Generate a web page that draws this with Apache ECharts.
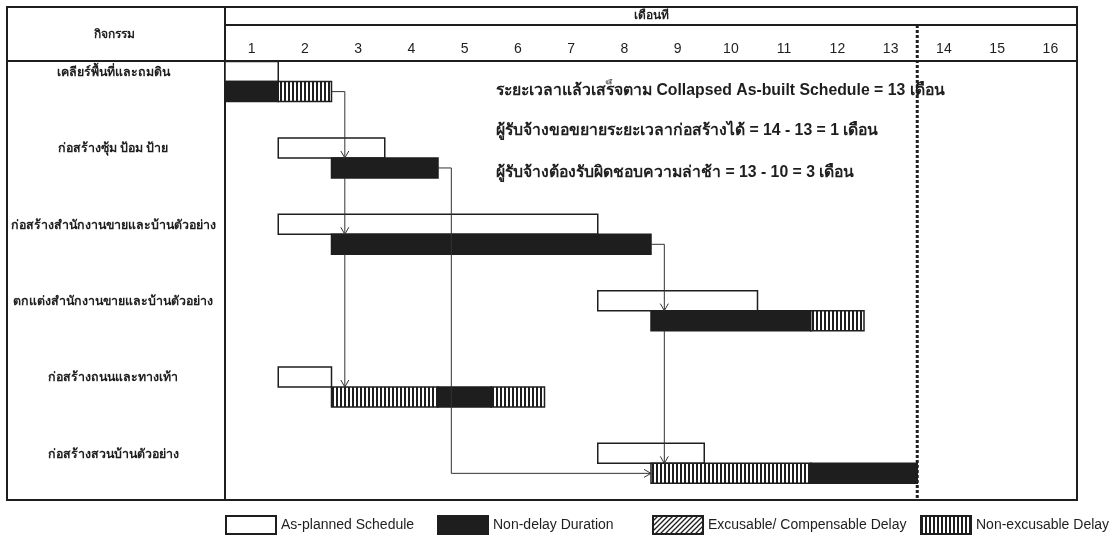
<!DOCTYPE html>
<html>
<head>
    <meta charset="utf-8">
    <title>Collapsed As-built Schedule</title>
    <script type="text/javascript" src="https://cdn.jsdelivr.net/npm/echarts@6/dist/echarts.min.js"></script>
    <style>
        html, body { margin: 0; padding: 0; background: #fff; }
    </style>
</head>
<body>
    <div id="root" style="width: 1113px; height: 536px"></div>
<script type="text/javascript">
// months on the top axis
var months = ['1', '2', '3', '4', '5', '6', '7', '8', '9', '10', '11', '12', '13', '14', '15', '16'];
var activities = [
    'เคลียร์พื้นที่และถมดิน',
    'ก่อสร้างซุ้ม ป้อม ป้าย',
    'ก่อสร้างสำนักงานขายและบ้านตัวอย่าง',
    'ตกแต่งสำนักงานขายและบ้านตัวอย่าง',
    'ก่อสร้างถนนและทางเท้า',
    'ก่อสร้างสวนบ้านตัวอย่าง'
];
// [row, start month, end month]
var planned = [[0, 0, 1], [1, 1, 3], [2, 1, 7], [3, 7, 10], [4, 1, 2], [5, 7, 9]];
var nonDelay = [[0, 0, 1], [1, 2, 4], [2, 2, 8], [3, 8, 11], [4, 4, 5], [5, 11, 13]];
var excusable = [];
var nonExcusable = [[0, 1, 2], [3, 11, 12], [4, 2, 4], [4, 5, 6], [5, 8, 11]];
// [from row, from month, elbow month, to row, to month]
var links = [
    [0, 2, 2.25, 1, 2.25],
    [1, 2.25, 2.25, 2, 2.25],
    [2, 2.25, 2.25, 4, 2.25],
    [1, 4, 4.25, 5, 8],
    [2, 8, 8.25, 3, 8.25],
    [3, 8.25, 8.25, 5, 8.25]
];
var completion = [[13, 0]];
var notes = [
    'ระยะเวลาแล้วเสร็จตาม Collapsed As-built Schedule = 13 เดือน',
    'ผู้รับจ้างขอขยายระยะเวลาก่อสร้างได้ = 14 - 13 = 1 เดือน',
    'ผู้รับจ้างต้องรับผิดชอบความล่าช้า = 13 - 10 = 3 เดือน'
];

var INK = '#1e1e1e';
var BAR_H = 20;
var FONT = '"Liberation Sans", Arial, "Noto Sans", sans-serif';

// fill patterns
function vStripes() {
    var c = document.createElement('canvas');
    c.width = 4; c.height = 4;
    var ctx = c.getContext('2d');
    ctx.fillStyle = '#fff';
    ctx.fillRect(0, 0, 4, 4);
    ctx.fillStyle = INK;
    ctx.fillRect(0, 0, 2, 4);
    return { image: c, repeat: 'repeat' };
}
function diagHatch() {
    var c = document.createElement('canvas');
    c.width = 5; c.height = 5;
    var ctx = c.getContext('2d');
    ctx.fillStyle = '#fff';
    ctx.fillRect(0, 0, 5, 5);
    ctx.strokeStyle = INK;
    ctx.lineWidth = 1.3;
    ctx.beginPath();
    ctx.moveTo(-1, 6); ctx.lineTo(6, -1);
    ctx.moveTo(-1, 1); ctx.lineTo(1, -1);
    ctx.moveTo(4, 6); ctx.lineTo(6, 4);
    ctx.stroke();
    return { image: c, repeat: 'repeat' };
}
var stripeFill = vStripes();
var hatchFill = diagHatch();

function barRender(fill, upper) {
    return function (params, api) {
        var row = api.value(0);
        var a = api.coord([api.value(1), row]);
        var b = api.coord([api.value(2), row]);
        return {
            type: 'rect',
            shape: { x: a[0], y: upper ? a[1] - BAR_H : a[1], width: b[0] - a[0], height: BAR_H },
            style: { fill: fill, stroke: INK, lineWidth: 1.5 }
        };
    };
}

function linkRender(params, api) {
    var fr = api.value(0), fx = api.value(1), ex = api.value(2), tr = api.value(3), tx = api.value(4);
    var s = api.coord([fx, fr]);
    var sy = fx === ex ? s[1] + BAR_H : s[1] + BAR_H / 2;
    var e = api.coord([ex, tr]);
    var pts = [[s[0], sy], [e[0], sy]];
    var head;
    if (tx === ex) {
        pts.push([e[0], e[1]]);
        head = [[e[0] - 4, e[1] - 7], [e[0], e[1]], [e[0] + 4, e[1] - 7]];
    } else {
        var y = e[1] + BAR_H / 2;
        var t = api.coord([tx, tr]);
        pts.push([e[0], y]);
        pts.push([t[0], y]);
        head = [[t[0] - 7, y - 4], [t[0], y], [t[0] - 7, y + 4]];
    }
    var st = { stroke: '#333', lineWidth: 1, fill: null };
    return {
        type: 'group',
        children: [
            { type: 'polyline', shape: { points: pts }, style: st },
            { type: 'polyline', shape: { points: head }, style: st }
        ]
    };
}

var myChart = echarts.init(document.getElementById('root'), null, { renderer: 'canvas' });

var legendBase = {
    top: 515,
    padding: 0,
    itemWidth: 50,
    itemHeight: 18,
    itemGap: 10,
    icon: 'rect',
    selectedMode: false,
    textStyle: { fontSize: 14, color: INK, fontFamily: FONT }
};

option = {
    animation: false,
    backgroundColor: '#fff',
    grid: {
        left: 225, right: 36, top: 61, bottom: 36,
        show: true, borderColor: INK, borderWidth: 2
    },
    legend: [
        Object.assign({ left: 225, data: ['As-planned Schedule'] }, legendBase),
        Object.assign({ left: 437, data: ['Non-delay Duration'] }, legendBase),
        Object.assign({ left: 652, data: ['Excusable/ Compensable Delay'] }, legendBase),
        Object.assign({ left: 920, data: ['Non-excusable Delay'] }, legendBase)
    ],
    xAxis: [{
        type: 'value', min: 0, max: 16, show: false
    }, {
        type: 'category', position: 'top', data: months,
        axisLine: { show: false }, axisTick: { show: false }, splitLine: { show: false },
        axisLabel: { margin: 5, fontSize: 14, color: INK, fontFamily: FONT }
    }],
    yAxis: {
        type: 'value', inverse: true, min: -0.27, max: 5.48,
        minInterval: 1, maxInterval: 1,
        axisLine: { show: false }, axisTick: { show: false }, splitLine: { show: false },
        axisLabel: {
            showMinLabel: false, showMaxLabel: false,
            margin: 112, align: 'center', verticalAlign: 'bottom', lineHeight: 18,
            fontSize: 12.4, fontWeight: 'bold', color: INK, fontFamily: FONT,
            formatter: function (v) {
                return Math.round(v) === v && activities[v] ? activities[v] : '';
            }
        }
    },
    graphic: [
        { type: 'rect', shape: { x: 7, y: 7, width: 1070, height: 493 }, style: { fill: null, stroke: INK, lineWidth: 2 }, z: 10 },
        { type: 'line', shape: { x1: 225, y1: 7, x2: 225, y2: 61 }, style: { stroke: INK, lineWidth: 2 }, z: 10 },
        { type: 'line', shape: { x1: 225, y1: 25, x2: 1077, y2: 25 }, style: { stroke: INK, lineWidth: 2 }, z: 10 },
        { type: 'line', shape: { x1: 7, y1: 61, x2: 225, y2: 61 }, style: { stroke: INK, lineWidth: 2 }, z: 10 },
        { type: 'text', x: 651, y: 16, style: { text: 'เดือนที่', font: 'bold 12px ' + FONT, fill: INK, align: 'center', verticalAlign: 'middle' }, z: 10 },
        { type: 'text', x: 114, y: 35, style: { text: 'กิจกรรม', font: 'bold 12px ' + FONT, fill: INK, align: 'center', verticalAlign: 'middle' }, z: 10 },
        { type: 'text', x: 496, y: 91, style: { text: notes[0], font: 'bold 15.8px ' + FONT, fill: INK, verticalAlign: 'middle' }, z: 10 },
        { type: 'text', x: 496, y: 131, style: { text: notes[1], font: 'bold 15.8px ' + FONT, fill: INK, verticalAlign: 'middle' }, z: 10 },
        { type: 'text', x: 496, y: 173, style: { text: notes[2], font: 'bold 15.8px ' + FONT, fill: INK, verticalAlign: 'middle' }, z: 10 }
    ],
    series: [{
        name: 'As-planned Schedule', type: 'custom', clip: false,
        itemStyle: { color: '#fff', borderColor: INK, borderWidth: 1.5 },
        encode: { x: [1, 2], y: 0 },
        renderItem: barRender('#fff', true),
        data: planned
    }, {
        name: 'Non-delay Duration', type: 'custom', clip: false,
        itemStyle: { color: INK, borderColor: INK, borderWidth: 1.5 },
        encode: { x: [1, 2], y: 0 },
        renderItem: barRender(INK, false),
        data: nonDelay
    }, {
        name: 'Excusable/ Compensable Delay', type: 'custom', clip: false,
        itemStyle: { color: hatchFill, borderColor: INK, borderWidth: 1.5 },
        encode: { x: [1, 2], y: 0 },
        renderItem: barRender(hatchFill, false),
        data: excusable
    }, {
        name: 'Non-excusable Delay', type: 'custom', clip: false,
        itemStyle: { color: stripeFill, borderColor: INK, borderWidth: 1.5 },
        encode: { x: [1, 2], y: 0 },
        renderItem: barRender(stripeFill, false),
        data: nonExcusable
    }, {
        name: 'links', type: 'custom', clip: false, z: 5, silent: true,
        encode: { x: [1, 2], y: 0 },
        renderItem: linkRender,
        data: links
    }, {
        name: 'completion', type: 'custom', clip: false, z: 6, silent: true,
        encode: { x: 0, y: 1 },
        renderItem: function (params, api) {
            var p = api.coord([api.value(0), api.value(1)]);
            var cs = params.coordSys;
            return {
                type: 'line',
                shape: { x1: p[0], y1: cs.y - 36, x2: p[0], y2: cs.y + cs.height },
                style: { stroke: INK, lineWidth: 3, lineDash: [3, 2] }
            };
        },
        data: completion
    }]
};
myChart.setOption(option, true);
</script>
</body>
</html>
